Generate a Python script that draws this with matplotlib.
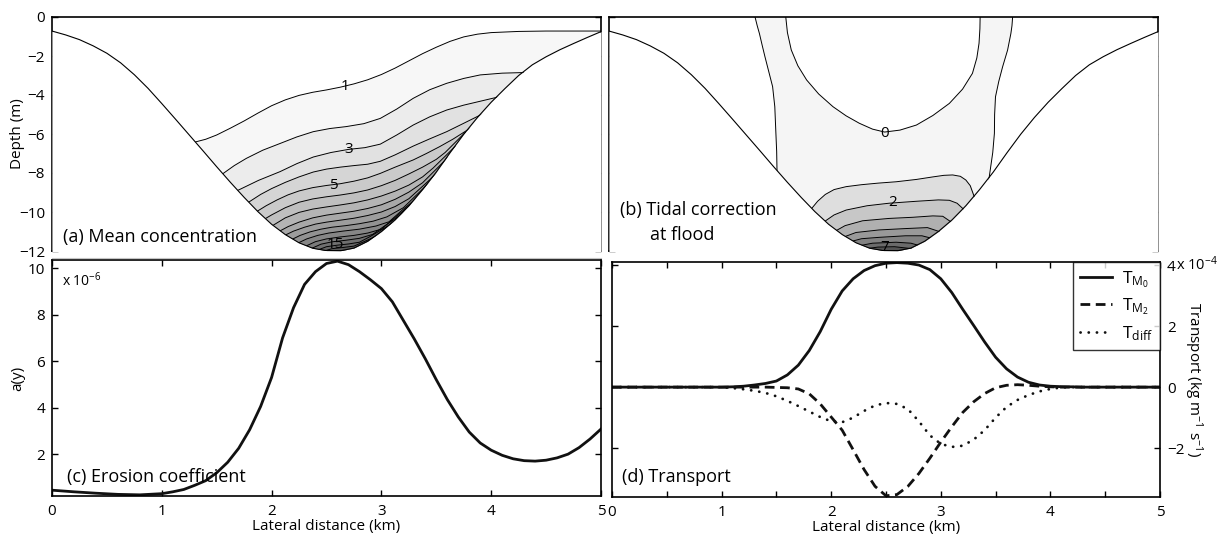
import numpy as np
import matplotlib

matplotlib.use("Agg")
import matplotlib.pyplot as plt  # noqa: E402
from matplotlib.lines import Line2D  # noqa: E402

plt.rcParams["font.family"] = ["Open Sans", "DejaVu Sans"]
plt.rcParams["mathtext.default"] = "regular"
plt.rcParams["axes.linewidth"] = 1.2

# --- channel bed (lateral distance km, depth m) ---
bed_x = [0.0, 0.125, 0.25, 0.375, 0.5, 0.625, 0.75, 0.875, 1.0, 1.125, 1.25, 1.375, 1.5,
         1.625, 1.75, 1.875, 2.0, 2.125, 2.25, 2.375, 2.5, 2.625, 2.75, 2.875, 3.0, 3.125,
         3.25, 3.375, 3.5, 3.625, 3.75, 3.875, 4.0, 4.125, 4.25, 4.375, 4.5, 4.625, 4.75,
         4.875, 5.0]
bed_d = [-0.72, -0.92, -1.16, -1.48, -1.86, -2.35, -2.96, -3.66, -4.44, -5.24, -6.05, -6.86,
         -7.68, -8.48, -9.25, -9.98, -10.63, -11.16, -11.58, -11.86, -11.98, -11.99, -11.85,
         -11.5, -11.0, -10.4, -9.68, -8.85, -7.95, -6.96, -6.01, -5.15, -4.37, -3.67, -3.0,
         -2.45, -2.04, -1.68, -1.36, -1.05, -0.75]

# --- (a) mean concentration, contour lines 1..15 as (x, depth) ---
mean_01 = ([1.318, 1.4, 1.5, 1.625, 1.75, 1.875, 2.0, 2.125, 2.25, 2.375, 2.5, 2.625, 2.75,
            2.875, 3.0, 3.125, 3.25, 3.375, 3.5, 3.625, 3.75, 3.875, 4.0, 4.25, 4.5, 5.0],
           [-6.39, -6.27, -6.05, -5.7, -5.33, -4.93, -4.55, -4.25, -4.02, -3.86, -3.74, -3.6,
            -3.43, -3.22, -2.95, -2.62, -2.25, -1.88, -1.55, -1.25, -1.02, -0.88, -0.8,
            -0.74, -0.72, -0.72])
mean_02 = ([1.56, 1.66, 1.77, 1.92, 2.08, 2.23, 2.38, 2.53, 2.68, 2.84, 2.99, 3.14, 3.29,
            3.44, 3.595, 3.75, 3.90, 4.1, 4.29],
           [-8.02, -7.62, -7.25, -6.83, -6.48, -6.15, -5.88, -5.72, -5.62, -5.47, -5.2,
            -4.72, -4.17, -3.73, -3.40, -3.15, -2.97, -2.88, -2.85])
mean_03 = ([1.70, 1.88, 2.077, 2.23, 2.38, 2.54, 2.70, 2.85, 2.99, 3.14, 3.29, 3.44, 3.595,
            3.75, 3.90, 4.05],
           [-8.87, -8.38, -7.93, -7.52, -7.18, -6.95, -6.79, -6.7, -6.52, -6.05, -5.54,
            -5.12, -4.77, -4.52, -4.32, -4.12])
mean_04 = ([1.79, 1.9, 2.0, 2.125, 2.25, 2.38, 2.5, 2.625, 2.75, 2.875, 2.99, 3.125, 3.29,
            3.44, 3.595, 3.75, 3.90],
           [-9.5, -9.1, -8.8, -8.48, -8.2, -7.95, -7.8, -7.7, -7.62, -7.55, -7.4, -7.07,
            -6.62, -6.25, -5.88, -5.45, -5.03])
mean_05 = ([1.864, 1.95, 2.05, 2.15, 2.25, 2.375, 2.5, 2.625, 2.75, 2.875, 2.99, 3.125,
            3.29, 3.41, 3.53, 3.65, 3.76],
           [-9.98, -9.68, -9.38, -9.12, -8.92, -8.75, -8.64, -8.55, -8.42, -8.25, -8.02,
            -7.7, -7.33, -7.0, -6.65, -6.27, -5.88])
mean_06 = ([1.925, 2.0, 2.125, 2.25, 2.375, 2.5, 2.625, 2.75, 2.875, 3.0, 3.125, 3.25,
            3.375, 3.5, 3.58, 3.66],
           [-10.4, -10.15, -9.78, -9.5, -9.33, -9.22, -9.13, -9.02, -8.87, -8.65, -8.38,
            -8.05, -7.7, -7.3, -6.95, -6.5])
mean_07 = ([1.985, 2.125, 2.25, 2.375, 2.5, 2.625, 2.75, 2.875, 3.0, 3.125, 3.25, 3.375,
            3.47, 3.57],
           [-10.78, -10.3, -10.02, -9.85, -9.74, -9.64, -9.53, -9.38, -9.18, -8.93, -8.62,
            -8.2, -7.75, -7.2])
mean_08 = ([2.05, 2.15, 2.25, 2.375, 2.5, 2.625, 2.75, 2.875, 3.0, 3.125, 3.25, 3.375, 3.50],
           [-11.05, -10.75, -10.52, -10.3, -10.16, -10.06, -9.96, -9.82, -9.63, -9.35, -8.98,
            -8.5, -7.8])
mean_09 = ([2.10, 2.2, 2.3, 2.4, 2.5, 2.625, 2.75, 2.875, 3.0, 3.125, 3.25, 3.44],
           [-11.25, -10.98, -10.78, -10.62, -10.52, -10.42, -10.32, -10.18, -10.0, -9.72,
            -9.32, -8.35])
mean_10 = ([2.17, 2.26, 2.35, 2.45, 2.55, 2.675, 2.8, 2.925, 3.05, 3.2, 3.38],
           [-11.45, -11.2, -11.02, -10.88, -10.78, -10.7, -10.6, -10.47, -10.25, -9.78, -8.8])
mean_11 = ([2.23, 2.32, 2.42, 2.52, 2.65, 2.8, 2.95, 3.07, 3.19, 3.31],
           [-11.62, -11.38, -11.2, -11.08, -10.98, -10.88, -10.72, -10.5, -9.9, -9.35])
mean_12 = ([2.30, 2.4, 2.5, 2.625, 2.75, 2.875, 3.0, 3.12, 3.23],
           [-11.78, -11.52, -11.38, -11.28, -11.2, -11.08, -10.88, -10.3, -9.8])
mean_13 = ([2.36, 2.45, 2.55, 2.675, 2.8, 2.92, 3.02, 3.11],
           [-11.88, -11.65, -11.53, -11.45, -11.35, -11.15, -10.75, -10.4])
mean_14 = ([2.42, 2.5, 2.6, 2.7, 2.8, 2.9, 2.99],
           [-11.95, -11.78, -11.7, -11.64, -11.55, -11.25, -10.95])
mean_15 = ([2.48, 2.55, 2.65, 2.75, 2.87],
           [-12.0, -11.88, -11.82, -11.75, -11.45])
mean_labels = ["1", "3", "5", "15"]
mean_label_xy = [(2.67, -3.55), (2.70, -6.8), (2.56, -8.62), (2.58, -11.68)]

# --- (b) tidal correction at flood ---
tide_0_left = ([1.33, 1.35, 1.37, 1.395, 1.42, 1.455, 1.49, 1.51, 1.52, 1.527, 1.53],
               [0.0, -0.45, -0.85, -1.45, -2.03, -2.8, -3.57, -4.6, -5.97, -6.9, -7.85])
tide_0_right = ([3.676, 3.67, 3.66, 3.63, 3.585, 3.55, 3.52, 3.512, 3.51, 3.495, 3.47],
                [0.0, -0.45, -0.85, -1.7, -2.55, -3.3, -4.09, -5.0, -5.97, -6.95, -7.93])
tide_0_bowl = ([1.61, 1.625, 1.66, 1.72, 1.80, 1.91, 2.04, 2.16, 2.28, 2.4, 2.51, 2.65,
                2.80, 2.95, 3.10, 3.22, 3.31, 3.35, 3.37, 3.378, 3.38],
               [0.0, -0.8, -1.69, -2.5, -3.23, -3.95, -4.6, -5.07, -5.45, -5.75, -5.9, -5.8,
                -5.54, -5.05, -4.43, -3.7, -2.89, -2.1, -1.35, -0.6, 0.0])
tide_1 = ([1.84, 1.9, 1.97, 2.05, 2.16, 2.3, 2.45, 2.615, 2.8, 2.95, 3.05, 3.13, 3.2, 3.25,
           3.29, 3.31],
          [-9.86, -9.45, -9.1, -8.85, -8.7, -8.6, -8.52, -8.45, -8.33, -8.2, -8.12, -8.1,
           -8.17, -8.36, -8.65, -8.96])
tide_2 = ([1.96, 2.05, 2.16, 2.35, 2.55, 2.8, 3.0, 3.1, 3.17, 3.22],
          [-10.5, -10.15, -9.9, -9.68, -9.55, -9.45, -9.38, -9.4, -9.55, -9.81])
tide_3 = ([2.055, 2.15, 2.31, 2.55, 2.77, 2.95, 3.04, 3.1],
          [-11.0, -10.7, -10.45, -10.33, -10.27, -10.2, -10.22, -10.45])
tide_4 = ([2.13, 2.25, 2.46, 2.7, 2.9, 2.98], [-11.3, -11.05, -10.92, -10.85, -10.8, -10.95])
tide_5 = ([2.2, 2.3, 2.46, 2.7, 2.85, 2.92], [-11.52, -11.37, -11.3, -11.22, -11.22, -11.32])
tide_6 = ([2.28, 2.4, 2.615, 2.75, 2.80], [-11.73, -11.6, -11.55, -11.6, -11.68])
tide_7 = ([2.34, 2.45, 2.6, 2.71], [-11.88, -11.8, -11.78, -11.85])
tide_labels = ["0", "2", "7"]
tide_label_xy = [(2.51, -5.95), (2.585, -9.5), (2.51, -11.8)]

# --- (c) erosion coefficient a(y), x 1e-6 ---
ero_x = [0.0, 0.2, 0.4, 0.6, 0.8, 1.0, 1.1, 1.2, 1.3, 1.4, 1.5, 1.6, 1.7, 1.8, 1.9, 2.0,
         2.1, 2.2, 2.3, 2.4, 2.5, 2.6, 2.7, 2.8, 2.9, 3.0, 3.1, 3.2, 3.3, 3.4, 3.5, 3.6,
         3.7, 3.8, 3.9, 4.0, 4.1, 4.2, 4.3, 4.4, 4.5, 4.6, 4.7, 4.8, 4.9, 5.0]
ero_a = [0.45, 0.38, 0.32, 0.27, 0.25, 0.30, 0.38, 0.48, 0.66, 0.86, 1.2, 1.65, 2.25, 3.05,
         4.05, 5.3, 7.0, 8.3, 9.3, 9.85, 10.2, 10.3, 10.15, 9.85, 9.5, 9.12, 8.55, 7.75,
         6.95, 6.1, 5.2, 4.35, 3.6, 2.95, 2.48, 2.17, 1.95, 1.8, 1.72, 1.7, 1.74, 1.84,
         2.0, 2.28, 2.65, 3.08]

# --- (d) transport components, x 1e-4 kg/m/s ---
tr_x = [0.0, 1.0, 1.1, 1.2, 1.3, 1.4, 1.5, 1.6, 1.7, 1.8, 1.9, 2.0, 2.1, 2.2, 2.3, 2.4,
        2.5, 2.6, 2.7, 2.8, 2.9, 3.0, 3.1, 3.2, 3.3, 3.4, 3.5, 3.6, 3.7, 3.8, 3.9, 4.0,
        4.1, 4.2, 4.3, 4.5, 5.0]
tr_m0 = [0.0, 0.0, 0.01, 0.03, 0.07, 0.12, 0.2, 0.4, 0.72, 1.2, 1.82, 2.55, 3.15, 3.55,
         3.82, 3.98, 4.06, 4.08, 4.06, 4.0, 3.85, 3.55, 3.1, 2.55, 2.02, 1.48, 0.98, 0.6,
         0.33, 0.16, 0.07, 0.03, 0.015, 0.01, 0.0, 0.0, 0.0]
tr_m2 = [0.0, 0.0, 0.0, 0.0, 0.0, 0.0, -0.01, -0.02, -0.06, -0.22, -0.55, -0.98, -1.41,
         -2.05, -2.7, -3.25, -3.56, -3.52, -3.25, -2.83, -2.33, -1.8, -1.3, -0.83, -0.48,
         -0.21, -0.02, 0.06, 0.08, 0.06, 0.03, 0.01, 0.0, 0.0, 0.0, 0.0, 0.0]
tr_diff = [0.0, 0.0, -0.03, -0.07, -0.12, -0.19, -0.3, -0.45, -0.62, -0.8, -0.98, -1.12,
           -1.15, -1.0, -0.78, -0.6, -0.52, -0.55, -0.72, -1.12, -1.58, -1.86, -1.96,
           -1.92, -1.72, -1.41, -1.0, -0.65, -0.42, -0.26, -0.14, -0.06, -0.01, 0.0, 0.0,
           0.0, 0.0]

mean_lines = [mean_01, mean_02, mean_03, mean_04, mean_05, mean_06, mean_07, mean_08,
              mean_09, mean_10, mean_11, mean_12, mean_13, mean_14, mean_15]
tide_lines = [tide_1, tide_2, tide_3, tide_4, tide_5, tide_6, tide_7]
mean_grays = np.linspace(0.97, 0.35, len(mean_lines))
tide_grays = np.linspace(0.96, 0.33, len(tide_lines) + 1)

W, H = 1227, 535
PX_KM, PX_M = 110.0, 19.5  # screen scale, used only to prolong lines into the bed
TICK_FS, LABEL_FS, PANEL_FS = 11, 11, 13


def prolong(xs, ys, px=16):
    """Continue both ends of a contour line a little so the bed mask cuts it cleanly."""
    xs, ys = list(map(float, xs)), list(map(float, ys))

    def step(x0, y0, x1, y1):
        dx, dy = (x0 - x1) * PX_KM, (y0 - y1) * PX_M
        n = np.hypot(dx, dy) or 1.0
        return x0 + dx / n * px / PX_KM, y0 + dy / n * px / PX_M

    sx, sy = step(xs[0], ys[0], xs[1], ys[1])
    ex, ey = step(xs[-1], ys[-1], xs[-2], ys[-2])
    return [sx] + xs + [ex], [sy] + ys + [ey]


def style_box(ax):
    ax.tick_params(direction="in", length=4, width=1.0, labelsize=TICK_FS)
    ax.tick_params(axis="y", pad=5)
    ax.tick_params(axis="x", pad=5.5)
    for s in ax.spines.values():
        s.set_linewidth(1.2)


def finish_section(ax):
    ax.fill_between(bed_x, bed_d, -13, color="white", lw=0, zorder=5)
    ax.plot(bed_x, bed_d, color="black", lw=0.8, zorder=6)
    ax.set_xlim(0, 5)
    ax.set_ylim(-12, 0)
    ax.set_xticks([1, 2, 3, 4])
    ax.set_yticks(np.arange(-12, 1, 2))
    style_box(ax)
    ax.tick_params(labelbottom=False, right=True, top=False)


fig = plt.figure(figsize=(W / 100, H / 100), dpi=100)
ax_a = fig.add_axes([52 / W, 1 - 251 / H, 549 / W, 234 / H])
ax_b = fig.add_axes([609 / W, 1 - 251 / H, 549 / W, 234 / H])
ax_c = fig.add_axes([52 / W, 1 - 496 / H, 549 / W, 236 / H])
ax_d = fig.add_axes([612 / W, 1 - 497 / H, 548 / W, 235 / H])

# faint rule under the upper-left panel, as in the source figure
fig.add_artist(Line2D([52 / W, 601 / W], [1 - 258 / H, 1 - 258 / H], color="#c4c4c4", lw=0.8))

# (a) mean concentration
for (lx, ld), g in zip(mean_lines, mean_grays):
    px_, pd_ = prolong(lx, ld)
    ax_a.fill_between(px_, pd_, -13, color=str(g), lw=0, zorder=1)
for lx, ld in mean_lines:
    px_, pd_ = prolong(lx, ld)
    ax_a.plot(px_, pd_, color="black", lw=0.7, zorder=2)
for lab, (tx, ty) in zip(mean_labels, mean_label_xy):
    ax_a.text(tx, ty, lab, fontsize=11, ha="center", va="center", zorder=7)
finish_section(ax_a)
ax_a.set_ylabel("Depth (m)", fontsize=LABEL_FS)
ax_a.yaxis.set_label_coords(-0.049, 0.5)
ax_a.text(0.02, 0.04, "(a) Mean concentration", transform=ax_a.transAxes,
          fontsize=PANEL_FS, va="baseline", zorder=8)

# (b) tidal correction
lx, ld = prolong(*tide_0_left)
rx, rd = prolong(*tide_0_right)
ring_x = lx + [lx[-1], rx[-1]] + rx[::-1] + tide_0_bowl[0][::-1]
ring_d = ld + [-13, -13] + rd[::-1] + tide_0_bowl[1][::-1]
ax_b.fill(ring_x, ring_d, color=str(tide_grays[0]), lw=0, zorder=1)
for (tx_, td_), g in zip(tide_lines, tide_grays[1:]):
    px_, pd_ = prolong(tx_, td_)
    ax_b.fill_between(px_, pd_, -13, color=str(g), lw=0, zorder=1)
for line in [tide_0_left, tide_0_right, tide_0_bowl] + tide_lines:
    px_, pd_ = prolong(*line)
    ax_b.plot(px_, pd_, color="black", lw=0.7, zorder=2)
for lab, (tx, ty) in zip(tide_labels, tide_label_xy):
    ax_b.text(tx, ty, lab, fontsize=11, ha="center", va="center", zorder=7)
finish_section(ax_b)
ax_b.tick_params(labelleft=False)
ax_b.text(0.02, 0.155, "(b) Tidal correction", transform=ax_b.transAxes,
          fontsize=PANEL_FS, va="baseline", zorder=8)
ax_b.text(0.075, 0.045, "at flood", transform=ax_b.transAxes,
          fontsize=PANEL_FS, va="baseline", zorder=8)

# (c) erosion coefficient
ax_c.plot(ero_x, ero_a, color="#111111", lw=2.0)
ax_c.set_xlim(0, 5)
ax_c.set_ylim(0.2, 10.35)
ax_c.set_xticks(range(6))
ax_c.set_yticks([2, 4, 6, 8, 10])
style_box(ax_c)
ax_c.tick_params(top=True, right=True)
ax_c.set_xlabel("Lateral distance (km)", fontsize=LABEL_FS, labelpad=0)
ax_c.set_ylabel("a(y)", fontsize=LABEL_FS)
ax_c.yaxis.set_label_coords(-0.049, 0.5)
ax_c.text(0.018, 0.89, r"x 10$^{-6}$", transform=ax_c.transAxes, fontsize=10)
ax_c.text(0.027, 0.06, "(c) Erosion coefficient", transform=ax_c.transAxes,
          fontsize=PANEL_FS, va="baseline")

# (d) transport
ax_d.plot(tr_x, tr_m0, color="#111111", lw=2.0, label=r"$T_{M_0}$")
ax_d.plot(tr_x, tr_m2, color="#111111", lw=2.0, ls=(0, (3.5, 2.0)), label=r"$T_{M_2}$")
ax_d.plot(tr_x, tr_diff, color="#111111", lw=2.0, ls=(0, (0.05, 2.9)),
          dash_capstyle="round", label=r"$T_{diff}$")
ax_d.set_xlim(0, 5)
ax_d.set_ylim(-3.6, 4.1)
d_ticks = np.arange(0, 5.01, 0.5)
ax_d.set_xticks(d_ticks)
ax_d.set_xticklabels([f"{t:g}" if float(t).is_integer() else "" for t in d_ticks])
ax_d.set_yticks([-2, 0, 2, 4])
style_box(ax_d)
ax_d.tick_params(top=True, left=True, right=True, labelleft=False, labelright=True)
ax_d.yaxis.set_label_position("right")
ax_d.set_ylabel(r"Transport (kg m$^{-1}$ s$^{-1}$)", fontsize=LABEL_FS, rotation=270,
                va="bottom")
ax_d.yaxis.set_label_coords(1.041, 0.5)
ax_d.set_xlabel("Lateral distance (km)", fontsize=LABEL_FS, labelpad=0)
ax_d.text(1.03, 0.987, r"x 10$^{-4}$", transform=ax_d.transAxes, fontsize=10.5,
          va="center", clip_on=False)
ax_d.text(0.018, 0.065, "(d) Transport", transform=ax_d.transAxes, fontsize=PANEL_FS,
          va="baseline")
leg = ax_d.legend(loc="upper right", fontsize=12.5, frameon=True, fancybox=False,
                  edgecolor="black", borderaxespad=0, handlelength=1.8,
                  labelspacing=0.4, borderpad=0.4, handletextpad=0.6)
leg.get_frame().set_linewidth(1.0)

fig.savefig("out.png", dpi=100)
